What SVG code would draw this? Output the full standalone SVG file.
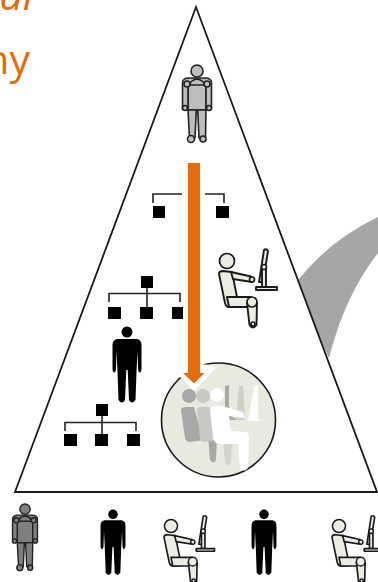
<svg xmlns="http://www.w3.org/2000/svg" width="378" height="582" viewBox="0 0 378 582">
<style>
.t{font-family:"Open Sans","Noto Sans",sans-serif;font-size:41px;fill:#e46c0a}
.o{stroke:#222;stroke-width:1.6;stroke-linejoin:round}
.g{stroke:#222;stroke-width:1.6;fill:none}
.s{fill:#000}
.l{fill:#ecece3;stroke:#1a1a1a;stroke-width:1.9;stroke-linejoin:round}
.a{fill:#ecece3;stroke:#1a1a1a;stroke-width:1.7}
</style>
<defs>
<g id="black">
<circle cx="0" cy="5" r="5.500"/>
<path d="M-10,12 L10,12 Q14.500,13 14.500,18 L14.500,42 Q14,46 12.500,45.500 Q11,45 11,40 L10.500,24 L9.500,45 L8.500,73 Q5,78 2,73 L0.700,43 L-0.700,43 L-2,73 Q-5,78 -8.500,73 L-9.500,45 L-10.500,24 L-11,40 Q-11,45 -12.500,45.500 Q-14,46 -14.500,42 L-14.500,18 Q-14.500,13 -10,12Z"/>
</g>
<g id="stand" class="o">
<circle cx="0" cy="6" r="6"/>
<path d="M-9,17 L9,17 L9,45 L-9,45Z"/>
<path d="M-14.500,44 L-14.500,18 Q-14.500,13 -8,13 L8,13 Q14.500,13 14.500,18 L14.500,44 L9,44 L9,20 L-9,20 L-9,44Z"/>
<path d="M-9,45 L-0.700,45 L-2,73 L-7.500,73Z"/>
<path d="M0.700,45 L9,45 L8.500,73 L2,73Z"/>
<path d="M-8,20 Q-6,15 0,14 Q6,15 8,20" fill="none"/>
<circle cx="-10" cy="19" r="3"/>
<circle cx="10" cy="19" r="3"/>
<circle cx="-12" cy="43" r="2.500"/>
<circle cx="12" cy="43" r="2.500"/>
<circle cx="-6" cy="74" r="3.500"/>
<circle cx="6" cy="74" r="3"/>
</g>
<g id="seated">
<circle class="a" cx="0" cy="0" r="7.500"/>
<path class="l" d="M-8,13 Q-8,10 -4,10 L5,11 L10,36 L10,46 L2,46 Q-1,46 -2,42Z"/>
<path class="l" d="M4,11 L24,15.500 L25,21 L6,18Z"/>
<circle class="a" cx="25" cy="18.500" r="2.500"/>
<path class="l" d="M0,36 L24,36 L24,46 L2,46Z"/>
<path class="l" d="M20,42 L30,42 L29.500,64 Q26,69 22.500,64Z"/>
<circle class="a" cx="25" cy="41" r="5"/>
<circle class="a" cx="26" cy="63" r="2"/>
<path class="l" d="M37,-11 Q39,-13 41,-10 L36,21 L32,21Z"/>
<path class="l" d="M35,8 L39,8 L39,26 L35,26Z"/>
<circle class="a" cx="37" cy="6" r="2.500"/>
<rect class="l" x="29" y="26" width="21" height="3"/>
</g>
</defs>
<text class="t" x="33" y="10" text-anchor="end" font-style="italic">al</text>
<text class="t" x="30" y="74" text-anchor="end">ny</text>
<path id="swoosh" d="M298,280 Q330,240 378,217 L378,253 Q345,295 329,358 L300,300Z" fill="#a6a6a6"/>
<path id="pyramid" d="M196,7 L377,492 L15,492Z" fill="#fff" stroke="#1a1a1a" stroke-width="1.800" stroke-linejoin="miter"/>
<g id="person-top" transform="translate(197,65)" fill="#bdbdbd"><use href="#stand"/></g>
<g id="person-black" class="s" transform="translate(127,327)"><use href="#black"/></g>
<g id="person-seated" transform="translate(227,261)"><use href="#seated"/></g>
<g id="org-top">
<rect class="s" x="153" y="206" width="12" height="12"/>
<rect class="s" x="216" y="206" width="13" height="12"/>
</g>
<g id="org-mid">
<rect class="s" x="141" y="276" width="12" height="12"/>
<rect class="s" x="108" y="307" width="13" height="12"/>
<rect class="s" x="140" y="307" width="13" height="12"/>
<rect class="s" x="172" y="307" width="11" height="12"/>
</g>
<g id="org-low">
<rect class="s" x="96" y="404" width="12" height="12"/>
<rect class="s" x="64" y="434" width="13" height="12"/>
<rect class="s" x="95" y="434" width="13" height="12"/>
<rect class="s" x="127" y="434" width="13" height="12"/>
</g>
<g id="circle-node">
<circle cx="218.500" cy="420" r="57" fill="#e9e9df" stroke="#1a1a1a" stroke-width="1.600"/>
<path d="M225,386 L229,385 L229,415 L238,420 L225,420Z" fill="#a9a9a5"/>
<path d="M239,386 L243,386 L245,420 L236,420Z" fill="#cfcfc8"/>
<path d="M254,386 L258,385 L258,418 L261,421 L248,421Z" fill="#fff"/>
<circle cx="189" cy="396" r="7" fill="#a8a8a6"/>
<path d="M181,410 Q181,407 186,407 L194,407 L203,440 L190,442 Q186,442 185,438Z" fill="#a8a8a6"/>
<path d="M208,436 L217,436 L216,460 Q213,465 210,460Z" fill="#a8a8a6"/>
<circle cx="203" cy="396" r="7" fill="#c8c8c4"/>
<path d="M197,410 Q197,407 201,407 L210,407 L217,440 L204,442 Q201,442 200,438Z" fill="#c8c8c4"/>
<path d="M223,438 L232,438 L231,463 Q228,467 225,463Z" fill="#d4d4cf"/>
<circle cx="217" cy="395" r="7" fill="#fff"/>
<path d="M210,410 Q210,406 214,406 L222,406 L243,412 L245,418 L229,416 L231,431 L246,432 Q249,433 249,438 L248,468 Q244,473 240,468 L238,444 L219,444 Q214,443 213,438Z" fill="#fff"/>
</g>
<g id="person-bottom-1" transform="translate(25,504) scale(.86)" fill="#7f7f7f"><use href="#stand"/></g>
<g id="person-bottom-2" class="s" transform="translate(113,510) scale(.86)"><use href="#black"/></g>
<g id="person-bottom-3" transform="translate(171,526) scale(.87)"><use href="#seated"/></g>
<g id="person-bottom-4" class="s" transform="translate(264,510) scale(.86)"><use href="#black"/></g>
<g id="person-bottom-5" transform="translate(339,526) scale(.87)"><use href="#seated"/></g>
<g id="connectors">
<path class="g" d="M153,203 V194 H182"/>
<path class="g" d="M205,194 H224 V203"/>
<path class="g" d="M109,302 V293.500 H180 V302 M147,288 V307"/>
<path class="g" d="M65,431 V422.500 H136 V431 M102,416 V434"/>
<path d="M178,375 L194,391 L217,367 Q205,362 190,366Z" fill="#fff"/>
<path d="M188,163 H200 V373 H204.500 L194,383.500 L183,373 H188Z" fill="#e46c0a"/>
</g>
</svg>
